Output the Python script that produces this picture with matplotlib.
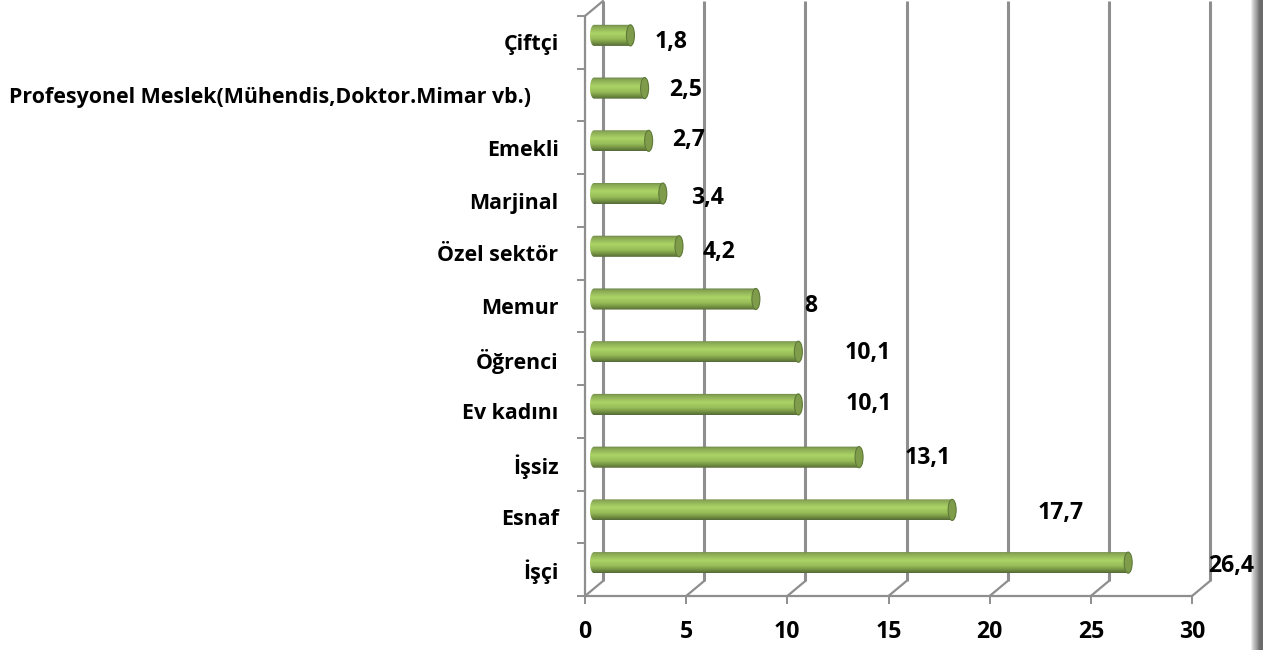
import numpy as np
import matplotlib
matplotlib.use('Agg')
import matplotlib.pyplot as plt
from matplotlib.colors import LinearSegmentedColormap
from matplotlib.patches import Ellipse, Polygon
from matplotlib.transforms import ScaledTranslation

# bottom to top, same as the chart's category axis
categories = ['İşçi', 'Esnaf', 'İşsiz', 'Ev kadını', 'Öğrenci', 'Memur',
              'Özel sektör', 'Marjinal', 'Emekli',
              'Profesyonel Meslek(Mühendis,Doktor.Mimar vb.)', 'Çiftçi']
values = [26.4, 17.7, 13.1, 10.1, 10.1, 8, 4.2, 3.4, 2.7, 2.5, 1.8]
value_labels = ['26,4', '17,7', '13,1', '10,1', '10,1', '8', '4,2', '3,4', '2,7', '2,5', '1,8']
x_ticks = [0, 5, 10, 15, 20, 25, 30]

# hand placed data labels in the original, offset from bar end in pixels
label_dx = [103, 109, 69, 70, 69, 55, 40, 45, 40, 41, 41]
label_dy = [-3, -3, -1, 0, -1, -7, -6, -4, 1, -2, -7]

GREY = '#8e8e8e'
FONT = 'Open Sans'
FS_CAT = 15.4
FS_NUM = 16.6

fig = plt.figure(figsize=(12.73, 6.5), dpi=100)
ax = fig.add_axes([585 / 1273, 54 / 650, 607 / 1273, 580 / 650])
ax.patch.set_alpha(0)
ax.set_zorder(2)

# 3d look: back wall and middle of the depth are shifted copies of the front plane
back = ax.transData + ScaledTranslation(18 / 100, 15 / 100, fig.dpi_scale_trans)
mid = ax.transData + ScaledTranslation(9 / 100, 7 / 100, fig.dpi_scale_trans)

ylim = (-0.5, len(categories) - 0.5)
ax.set_xlim(0, 30)
ax.set_ylim(*ylim)


def diagonal(x, y):
    ax.annotate('', xy=(x, y), xycoords=back, xytext=(x, y), textcoords='data',
                arrowprops=dict(arrowstyle='-', color=GREY, lw=1.6, shrinkA=0, shrinkB=0), zorder=1)


for t in x_ticks:
    ax.plot([t, t], ylim, color=GREY, lw=2.2, transform=back, clip_on=False, zorder=1, solid_capstyle='butt')
    diagonal(t, ylim[0])
diagonal(0, ylim[1])

# cylinders
cyl = LinearSegmentedColormap.from_list('cyl', [
    (0.0, '#66804a'), (0.12, '#8aa954'), (0.42, '#abd466'),
    (0.68, '#96bb58'), (0.88, '#6f8c3e'), (1.0, '#55693a')])
grad = np.linspace(0, 1, 64)[:, None]
px = 607 / 30
cap = 4 / px
half = 0.2
theta = np.linspace(-np.pi / 2, np.pi / 2, 30)

for i, v in enumerate(values):
    xs = np.r_[v + cap * np.cos(theta), -cap * np.cos(theta[::-1])]
    ys = np.r_[i + half * np.sin(theta), i + half * np.sin(theta[::-1])]
    outline = Polygon(np.c_[xs, ys], closed=True, fc='none', ec='none', transform=mid, clip_on=False)
    ax.add_patch(outline)
    im = ax.imshow(grad, cmap=cyl, vmin=0, vmax=1, extent=(-cap, v + cap, i - half, i + half),
                   aspect='auto', origin='upper', zorder=3, transform=mid)
    im.set_clip_path(outline)
    ax.add_patch(Ellipse((v, i), 2 * cap, 2 * half, fc='#7f9c4b', ec='#5f7a3a', lw=0.8,
                         transform=mid, zorder=4, clip_on=False))
    ax.annotate(value_labels[i], (v, i), xycoords=mid, xytext=(label_dx[i] * 0.72, label_dy[i] * 0.72),
                textcoords='offset points', ha='center', va='center', fontsize=FS_NUM,
                fontweight='bold', family=FONT, color='black', zorder=6)

ax.set_xlim(0, 30)
ax.set_ylim(*ylim)

ax.set_xticks(x_ticks)
ax.set_yticks(range(len(categories)))
ax.set_yticklabels(categories)
ax.set_yticks(np.arange(-0.5, len(categories)), minor=True)
ax.tick_params(axis='y', which='major', length=0, pad=19)
ax.tick_params(axis='y', which='minor', length=6, width=1.4, color=GREY)
ax.tick_params(axis='x', length=6, width=1.4, color=GREY, pad=11)
for lab in ax.get_yticklabels():
    lab.set_fontfamily(FONT)
    lab.set_fontweight('bold')
    lab.set_fontsize(FS_CAT)
    # the long label sits further left in the original
    if lab.get_text().startswith('Profesyonel'):
        lab.set_transform(lab.get_transform() + ScaledTranslation(-28 / 100, 0, fig.dpi_scale_trans))
for lab in ax.get_xticklabels():
    lab.set_fontfamily(FONT)
    lab.set_fontweight('bold')
    lab.set_fontsize(FS_NUM)

for s in ['top', 'right']:
    ax.spines[s].set_visible(False)
for s in ['left', 'bottom']:
    ax.spines[s].set_color(GREY)
    ax.spines[s].set_linewidth(1.6)

# shaded strip at the right edge of the slide
strip = fig.add_axes([1250 / 1273, 0, 13 / 1273, 1])
strip.set_zorder(1)
strip.imshow(np.linspace(0, 1, 13)[None, :],
             cmap=LinearSegmentedColormap.from_list('strip', ['#ffffff', '#c8c8c8', '#a0a0a0', '#707070', '#6a6a6a']),
             aspect='auto')
strip.axis('off')

fig.savefig('out.png', dpi=100)
